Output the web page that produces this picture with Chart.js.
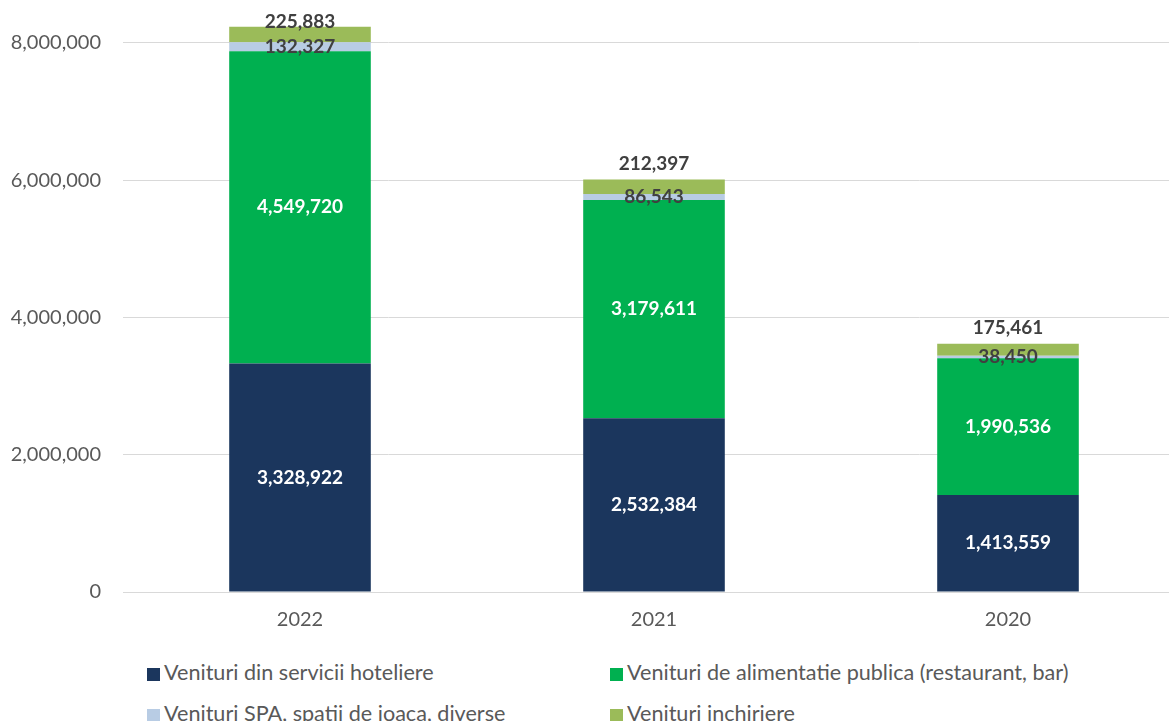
<!DOCTYPE html>
<html>
<head>
<meta charset="utf-8">
<script src="https://cdn.jsdelivr.net/npm/chart.js@4.4.0/dist/chart.umd.min.js"></script>
<style>
  html, body { margin: 0; padding: 0; background: #fff; overflow: hidden; }
  #wrap { position: relative; width: 1185px; height: 662px; margin-top: -22px; }
  #legend { position: absolute; left: 147px; top: 659px; width: 1000px; font-family: Lato, "Open Sans", sans-serif; font-size: 21.6px; color: #595959; }
  .item { position: absolute; white-space: nowrap; }
  .box { display: inline-block; width: 13px; height: 13px; margin-right: 4px; vertical-align: -1px; }
</style>
</head>
<body>
<div id="wrap"><canvas id="chart"></canvas></div>
<div id="legend"></div>
<script>
// data
var years = ['2022', '2021', '2020'];
var hotelValues = [3328922, 2532384, 1413559];
var foodValues = [4549720, 3179611, 1990536];
var spaValues = [132327, 86543, 38450];
var rentValues = [225883, 212397, 175461];
var yTicks = [0, 2000000, 4000000, 6000000, 8000000];

var seriesNames = [
  'Venituri din servicii hoteliere',
  'Venituri de alimentatie publica (restaurant, bar)',
  'Venituri SPA, spatii de joaca, diverse',
  'Venituri inchiriere'
];
var colors = ['#1b365d', '#00b050', '#b8cce4', '#9bbb59'];
var labelColors = ['#ffffff', '#ffffff', '#404040', '#404040'];

var fmt = function(v) { return v.toLocaleString('en-US'); };

// labels drawn on the bars
var barLabels = {
  id: 'barLabels',
  afterDatasetsDraw: function(chart) {
    var ctx = chart.ctx;
    ctx.save();
    ctx.font = 'bold 19px Lato, "Open Sans", sans-serif';
    ctx.textAlign = 'center';
    ctx.textBaseline = 'middle';
    chart.data.datasets.forEach(function(ds, i) {
      var meta = chart.getDatasetMeta(i);
      meta.data.forEach(function(bar, j) {
        var y = (bar.y + bar.base) / 2;
        if (i == 3) {
          // sits above the bar, pushed down near the top edge
          y = Math.max(bar.y - 16, 44);
        }
        ctx.fillStyle = labelColors[i];
        ctx.fillText(fmt(ds.data[j]), bar.x, y);
      });
    });
    ctx.restore();
  }
};

var ctx = document.getElementById('chart').getContext('2d');
new Chart(ctx, {
  type: 'bar',
  data: {
    labels: years,
    datasets: [
      { label: seriesNames[0], data: hotelValues, backgroundColor: colors[0] },
      { label: seriesNames[1], data: foodValues, backgroundColor: colors[1] },
      { label: seriesNames[2], data: spaValues, backgroundColor: colors[2] },
      { label: seriesNames[3], data: rentValues, backgroundColor: colors[3] }
    ]
  },
  options: {
    responsive: true,
    maintainAspectRatio: false,
    animation: false,
    layout: { padding: 0 },
    datasets: { bar: { barPercentage: 0.4, categoryPercentage: 1 } },
    plugins: {
      legend: { display: false },
      tooltip: { enabled: false }
    },
    scales: {
      x: {
        stacked: true,
        grid: { display: false },
        border: { color: '#d9d9d9', width: 1 },
        ticks: { color: '#595959', padding: 8, font: { size: 20, family: 'Lato' } }
      },
      y: {
        stacked: true,
        min: 0,
        max: 8450000,
        afterBuildTicks: function(axis) {
          axis.ticks = yTicks.map(function(v) { return { value: v }; });
        },
        afterFit: function(axis) { axis.width = 123; },
        grid: { color: '#d9d9d9', drawTicks: false },
        border: { display: false },
        ticks: {
          color: '#595959',
          padding: 22,
          font: { size: 20, family: 'Lato' },
          callback: function(v) { return fmt(v); }
        }
      }
    }
  },
  plugins: [barLabels]
});

// legend in two columns like the original
var legendEl = document.getElementById('legend');
var pos = [[0, 0], [463, 0], [0, 41], [463, 41]];
seriesNames.forEach(function(name, i) {
  var d = document.createElement('div');
  d.className = 'item';
  d.style.left = pos[i][0] + 'px';
  d.style.top = pos[i][1] + 'px';
  d.innerHTML = '<span class="box" style="background:' + colors[i] + '"></span>' + name;
  legendEl.appendChild(d);
});
</script>
</body>
</html>
